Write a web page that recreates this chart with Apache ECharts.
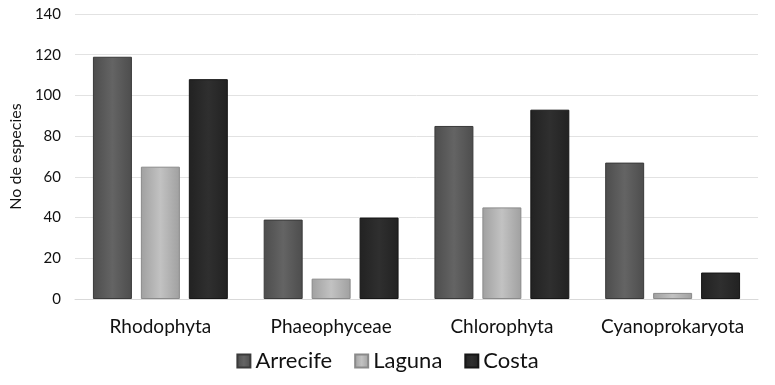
<!DOCTYPE html>
<html><head><meta charset="utf-8">
<script src="https://cdn.jsdelivr.net/npm/echarts@6/dist/echarts.min.js"></script>
<style>html,body{margin:0;padding:0;background:#fff}#c{width:775px;height:385px}</style>
</head><body><div id="c"></div>
<script>
const categories = ['Rhodophyta', 'Phaeophyceae', 'Chlorophyta', 'Cyanoprokaryota'];
const arrecife = [119, 39, 85, 67];
const laguna = [65, 10, 45, 3];
const costa = [108, 40, 93, 13];
const yTicks = {min: 0, max: 140, interval: 20};

function grad(edge, mid) {
  return new echarts.graphic.LinearGradient(0, 0, 1, 0, [
    {offset: 0, color: edge}, {offset: 0.5, color: mid}, {offset: 1, color: edge}
  ]);
}
const font = 'Lato, "Open Sans", sans-serif';
function s(name, data, edge, mid, border) {
  return {
    name, type: 'bar', data, barGap: '23%', barCategoryGap: '21%',
    itemStyle: {color: grad(edge, mid), borderColor: border, borderWidth: 1}
  };
}
const chart = echarts.init(document.getElementById('c'));
chart.setOption({
  animation: false,
  textStyle: {fontFamily: font},
  grid: {left: 74, right: 17, top: 14, bottom: 86},
  legend: {
    bottom: 8, left: 'center', itemWidth: 13, itemHeight: 13, itemGap: 22,
    icon: 'rect',
    textStyle: {fontSize: 22, color: '#111', fontFamily: font},
    data: ['Arrecife', 'Laguna', 'Costa']
  },
  xAxis: {
    type: 'category', data: categories,
    axisLine: {lineStyle: {color: '#d9d9d9'}},
    axisTick: {show: false},
    axisLabel: {fontSize: 19, color: '#111', margin: 18, interval: 0, fontFamily: font}
  },
  yAxis: {
    type: 'value', min: yTicks.min, max: yTicks.max, interval: yTicks.interval,
    name: 'No de especies', nameLocation: 'middle', nameGap: 45, nameRotate: 90,
    nameTextStyle: {fontSize: 16, color: '#111', fontFamily: font},
    axisLine: {show: false}, axisTick: {show: false},
    axisLabel: {fontSize: 15, color: '#111', margin: 14, fontFamily: font},
    splitLine: {lineStyle: {color: '#e2e2e2', width: 1}}
  },
  series: [
    s('Arrecife', arrecife, '#4d4d4d', '#646464', '#3a3a3a'),
    s('Laguna', laguna, '#a0a0a0', '#c2c2c2', '#8a8a8a'),
    s('Costa', costa, '#222222', '#2f2f2f', '#161616')
  ]
});
</script></body></html>
